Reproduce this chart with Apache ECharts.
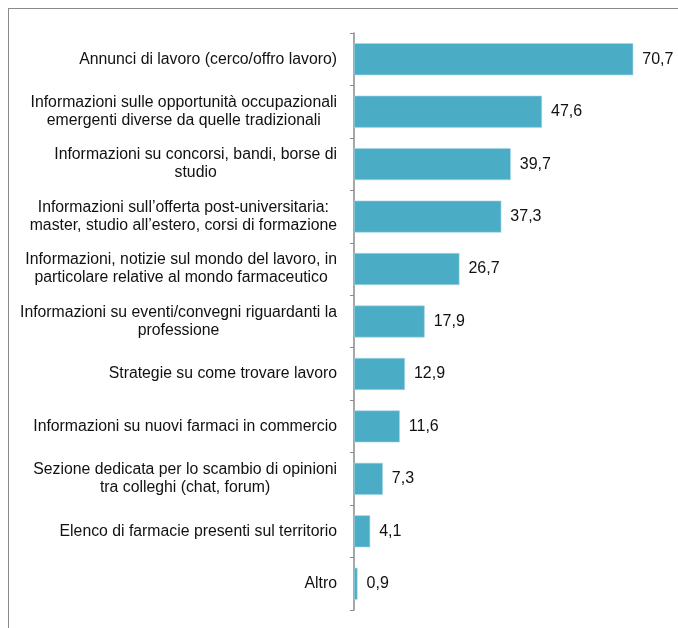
<!DOCTYPE html>
<html>
<head>
<meta charset="utf-8">
<script src="https://cdn.jsdelivr.net/npm/echarts@6/dist/echarts.min.js"></script>
<style>
html,body{margin:0;padding:0;background:#fff;}
#chart{width:678px;height:628px;}
</style>
</head>
<body>
<div id="chart"></div>
<script>
const categories = [
  "Annunci di lavoro (cerco/offro lavoro)",
  "Informazioni sulle opportunità occupazionali\nemergenti diverse da quelle tradizionali",
  "Informazioni su concorsi, bandi, borse di\nstudio",
  "Informazioni sull’offerta post-universitaria:\nmaster, studio all’estero, corsi di formazione",
  "Informazioni, notizie sul mondo del lavoro, in\nparticolare relative al mondo farmaceutico",
  "Informazioni su eventi/convegni riguardanti la\nprofessione",
  "Strategie su come trovare lavoro",
  "Informazioni su nuovi farmaci in commercio",
  "Sezione dedicata per lo scambio di opinioni\ntra colleghi (chat, forum)",
  "Elenco di farmacie presenti sul territorio",
  "Altro"
];
const values = [70.7, 47.6, 39.7, 37.3, 26.7, 17.9, 12.9, 11.6, 7.3, 4.1, 0.9];

const chart = echarts.init(document.getElementById('chart'), null, {renderer: 'canvas'});
const FONT = '"Liberation Sans", Arial, sans-serif';
chart.setOption({
  animation: false,
  backgroundColor: '#ffffff',
  grid: {left: 354, top: 33, width: 316, height: 577, containLabel: false},
  xAxis: {
    type: 'value', min: 0, max: 80,
    show: false
  },
  yAxis: {
    type: 'category',
    data: categories,
    inverse: true,
    axisLine: {show: true, lineStyle: {color: '#8a8a8a', width: 1.5}},
    axisTick: {show: true, length: 4, inside: false, lineStyle: {color: '#8a8a8a', width: 1}},
    splitLine: {show: false},
    axisLabel: {
      margin: 17,
      color: '#111',
      fontFamily: FONT,
      fontSize: 15.8,
      lineHeight: 18,
      formatter: function (v) {
        return v.split('\n').map(function (l) { return '{c|' + l + '}'; }).join('\n');
      },
      rich: {c: {align: 'center', fontFamily: FONT, fontSize: 15.8, lineHeight: 18, color: '#111'}}
    }
  },
  series: [{
    type: 'bar',
    data: values,
    barWidth: 32,
    itemStyle: {color: '#4BACC6', borderColor: '#a9d8e6', borderWidth: 0.6},
    label: {
      show: true,
      position: 'right',
      distance: 9,
      color: '#111',
      fontFamily: FONT,
      fontSize: 16,
      formatter: function (p) { return p.value.toFixed(1).replace('.', ','); }
    }
  }],
  graphic: [
    {type: 'line', shape: {x1: 8, y1: 8.5, x2: 678, y2: 8.5}, style: {stroke: '#8a8a8a', lineWidth: 1}},
    {type: 'line', shape: {x1: 8.5, y1: 8, x2: 8.5, y2: 628}, style: {stroke: '#8a8a8a', lineWidth: 1}}
  ]
});
</script>
</body>
</html>
